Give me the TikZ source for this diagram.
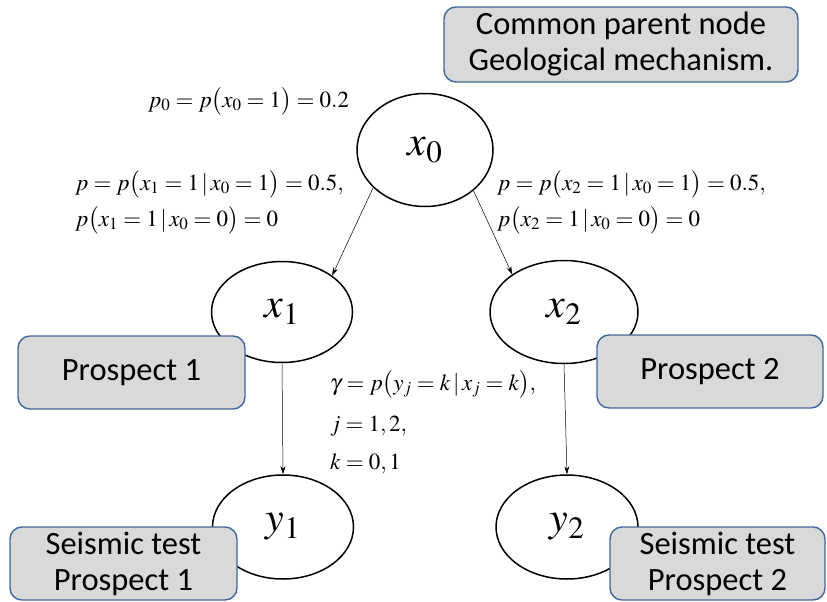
\documentclass[tikz,border=0pt]{standalone}
\usepackage{mathptmx}
\usepackage[no-math]{fontspec}
\setmainfont{Carlito}
\usetikzlibrary{shapes.geometric,arrows.meta}
\definecolor{boxfill}{RGB}{217,217,217}
\definecolor{boxline}{RGB}{65,104,155}
\tikzset{
  ell/.style={ellipse, draw=black, line width=1.5pt, fill=white, inner sep=0pt, font=\fontsize{42}{42}\selectfont},
  infobox/.style={draw=boxline, fill=boxfill, line width=1.4pt, rounded corners=12pt,
    font=\fontsize{32.5}{36}\selectfont, align=center, inner sep=0pt},
  arr/.style={-{Stealth[length=8pt,width=5pt]}, line width=0.5pt},
  lbl/.style={font=\fontsize{23}{30}\selectfont, inner sep=0pt, anchor=base west}
}
\begin{document}
\begin{tikzpicture}[x=1pt,y=-1pt]
\useasboundingbox (0,0) rectangle (827,602);
% ellipses
\node[ell, minimum width=136pt, minimum height=113pt] (x0) at (425,150) {$x_0$};
\node[ell, minimum width=141pt, minimum height=101pt] (x1) at (282,312) {$x_1$};
\node[ell, minimum width=148pt, minimum height=103pt] (x2) at (564,312) {$x_2$};
\node[ell, minimum width=141pt, minimum height=104pt] (y1) at (283,527) {$y_1$};
\node[ell, minimum width=142pt, minimum height=104pt] (y2) at (567,527) {$y_2$};
% arrows
\draw[arr] (x0.216) -- (x1.36);
\draw[arr] (x0.320) -- (x2.144);
\draw[arr] (x1.south) -- (y1.north);
\draw[arr] (x2.south) -- (y2.north);
% labels
\node[lbl] (p0) at (148,107) {$p_0 = p\bigl(x_0 = 1\bigr) = 0.2$};
\node[lbl] (pl1) at (75,190) {$p = p\bigl(x_1 = 1\,|\,x_0 = 1\bigr) = 0.5,$};
\node[lbl] (pl2) at (75,226) {$p\bigl(x_1 = 1\,|\,x_0 = 0\bigr) = 0$};
\node[lbl] (pr1) at (497,190) {$p = p\bigl(x_2 = 1\,|\,x_0 = 1\bigr) = 0.5,$};
\node[lbl] (pr2) at (497,226) {$p\bigl(x_2 = 1\,|\,x_0 = 0\bigr) = 0$};
\node[lbl] (g1) at (330,390) {$\gamma = p\bigl(y_j = k\,|\,x_j = k\bigr),$};
\node[lbl] (g2) at (330,431) {$j = 1,2,$};
\node[lbl] (g3) at (330,469) {$k = 0,1$};
% boxes
\node[infobox, minimum width=354pt, minimum height=75pt] (common) at (621,44.5) {Common parent node\\Geological mechanism.};
\node[infobox, minimum width=227pt, minimum height=73pt] (pros1) at (131.5,372.5) {Prospect 1};
\node[infobox, minimum width=226pt, minimum height=73pt] (pros2) at (710,371.5) {Prospect 2};
\node[infobox, minimum width=227pt, minimum height=73pt] (seis1) at (123.5,563.5) {Seismic test\\Prospect 1};
\node[infobox, minimum width=215pt, minimum height=73pt] (seis2) at (717.5,563.5) {Seismic test\\Prospect 2};
\end{tikzpicture}
\end{document}
